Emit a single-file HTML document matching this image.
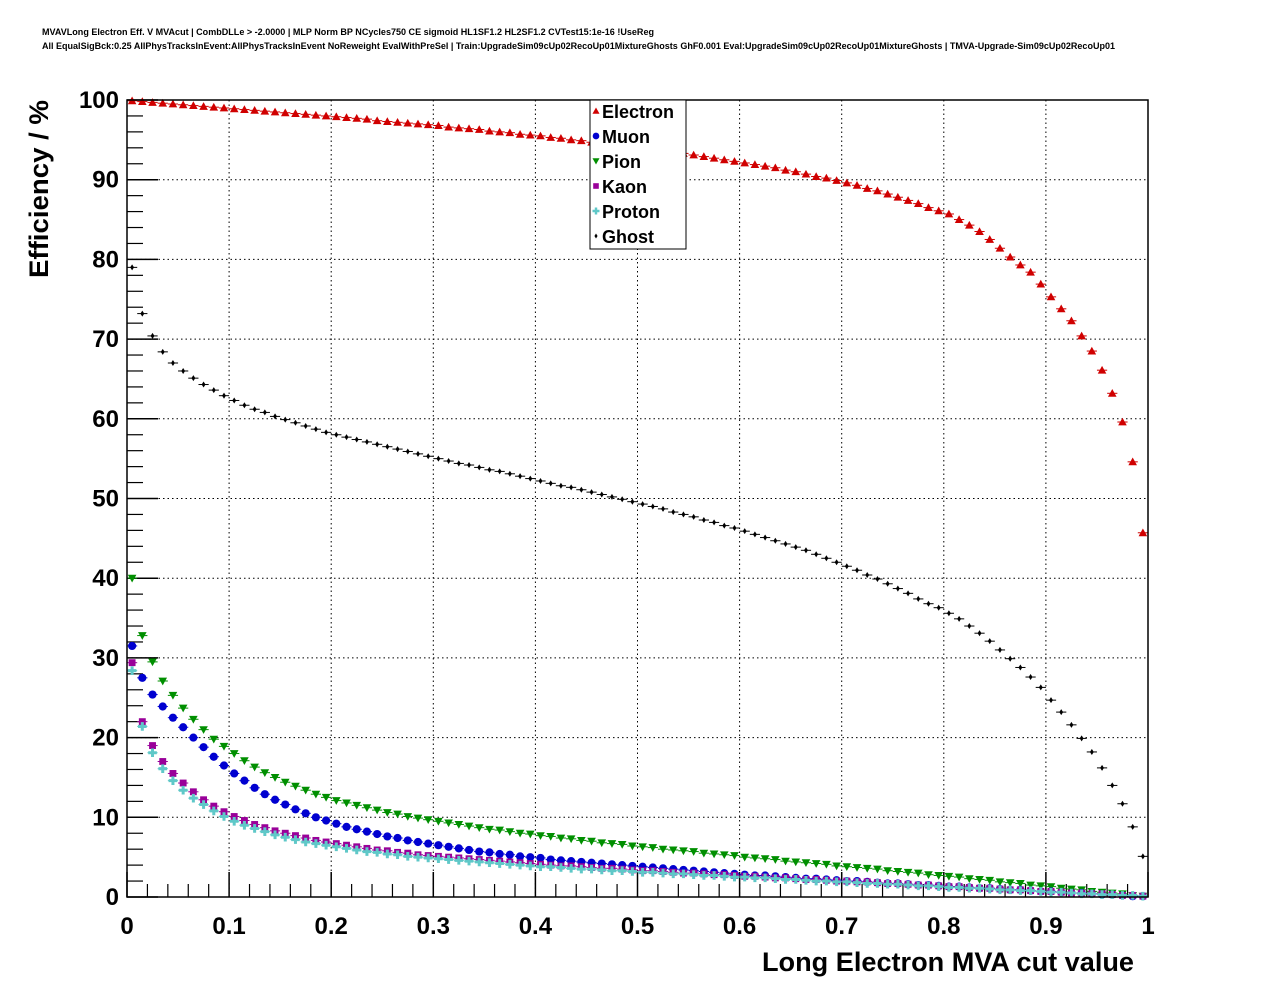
<!DOCTYPE html>
<html><head><meta charset="utf-8"><style>
body{margin:0;background:#fff;}
svg{display:block;font-family:"Liberation Sans",sans-serif;}
</style></head><body>
<svg id="c" width="1276" height="996" viewBox="0 0 1276 996">
<text x="42" y="35" font-size="9" font-weight="bold" textLength="612" lengthAdjust="spacingAndGlyphs">MVAVLong Electron Eff. V MVAcut | CombDLLe &gt; -2.0000 | MLP Norm BP NCycles750 CE sigmoid HL1SF1.2 HL2SF1.2 CVTest15:1e-16 !UseReg</text>
<text x="42" y="49" font-size="9" font-weight="bold" textLength="1073" lengthAdjust="spacingAndGlyphs">All EqualSigBck:0.25 AllPhysTracksInEvent:AllPhysTracksInEvent NoReweight EvalWithPreSel | Train:UpgradeSim09cUp02RecoUp01MixtureGhosts GhF0.001 Eval:UpgradeSim09cUp02RecoUp01MixtureGhosts | TMVA-Upgrade-Sim09cUp02RecoUp01</text>
<g id="grid"></g>
<g id="axes"></g>
<g id="marks"></g>
<rect x="127" y="100" width="1021" height="797" fill="none" stroke="#000" stroke-width="1.5"/>
<text x="1134" y="971" font-size="27" font-weight="bold" text-anchor="end" textLength="372" lengthAdjust="spacingAndGlyphs">Long Electron MVA cut value</text>
<text transform="translate(48,100) rotate(-90)" font-size="27" font-weight="bold" text-anchor="end" textLength="178" lengthAdjust="spacingAndGlyphs">Efficiency / %</text>
<g id="legend">
<rect x="590" y="100" width="96" height="149" fill="#fff" stroke="#000" stroke-width="1"/>
</g>
</svg>
<script>
const categories = ["Electron","Muon","Pion","Kaon","Proton","Ghost"];
const xTicks = [0,0.1,0.2,0.3,0.4,0.5,0.6,0.7,0.8,0.9,1];
const xTickLabels = ["0","0.1","0.2","0.3","0.4","0.5","0.6","0.7","0.8","0.9","1"];
const yTicks = [0,10,20,30,40,50,60,70,80,90,100];
const yTickLabels = ["0","10","20","30","40","50","60","70","80","90","100"];
const electron = [99.9,99.8,99.7,99.6,99.5,99.4,99.3,99.2,99.1,99.0,
98.9,98.8,98.7,98.6,98.5,98.4,98.3,98.2,98.1,98.0,
97.9,97.8,97.7,97.6,97.4,97.3,97.2,97.1,97.0,96.9,
96.8,96.6,96.5,96.4,96.3,96.1,96.0,95.9,95.7,95.6,
95.5,95.3,95.2,95.0,94.9,94.7,94.6,94.4,94.2,94.1,
93.9,93.8,93.6,93.4,93.3,93.1,92.9,92.7,92.5,92.3,
92.1,91.9,91.7,91.5,91.2,91.0,90.7,90.4,90.2,89.9,
89.6,89.3,88.9,88.6,88.2,87.8,87.4,87.0,86.5,86.1,
85.7,85.0,84.3,83.5,82.5,81.4,80.3,79.3,78.4,76.9,
75.3,73.8,72.3,70.4,68.5,66.1,63.2,59.6,54.6,45.7];
const muon = [31.5,27.5,25.4,23.9,22.5,21.3,20.0,18.8,17.6,16.5,
15.5,14.6,13.7,12.9,12.2,11.6,11.0,10.5,10.0,9.6,
9.2,8.8,8.5,8.2,7.9,7.6,7.4,7.1,6.9,6.7,
6.5,6.3,6.1,5.9,5.7,5.6,5.4,5.3,5.1,5.0,
4.9,4.7,4.6,4.5,4.4,4.3,4.2,4.1,4.0,3.9,
3.8,3.7,3.6,3.5,3.4,3.3,3.2,3.1,3.0,2.9,
2.8,2.7,2.7,2.6,2.5,2.4,2.3,2.3,2.2,2.1,
2.0,2.0,1.9,1.8,1.7,1.7,1.6,1.5,1.5,1.4,
1.3,1.3,1.2,1.1,1.1,1.0,0.9,0.9,0.8,0.7,
0.7,0.6,0.5,0.5,0.4,0.3,0.3,0.2,0.1,0.1];
const pion = [40.0,32.8,29.5,27.1,25.3,23.7,22.3,21.0,19.8,18.9,
18.0,17.1,16.3,15.6,15.0,14.4,13.9,13.4,12.9,12.5,
12.1,11.8,11.5,11.2,10.9,10.6,10.4,10.1,9.9,9.7,
9.5,9.3,9.1,8.9,8.7,8.5,8.4,8.2,8.0,7.9,
7.7,7.6,7.4,7.3,7.1,7.0,6.8,6.7,6.6,6.4,
6.3,6.2,6.0,5.9,5.8,5.7,5.5,5.4,5.3,5.2,
5.0,4.9,4.8,4.7,4.5,4.4,4.3,4.2,4.1,3.9,
3.8,3.7,3.6,3.5,3.3,3.2,3.1,3.0,2.8,2.7,
2.6,2.5,2.3,2.2,2.1,1.9,1.8,1.7,1.5,1.4,
1.3,1.1,1.0,0.9,0.7,0.6,0.5,0.4,0.2,0.1];
const kaon = [29.4,22.0,19.0,17.0,15.5,14.3,13.2,12.2,11.4,10.7,
10.1,9.6,9.1,8.7,8.3,8.0,7.7,7.4,7.1,6.9,
6.7,6.5,6.3,6.1,5.9,5.8,5.6,5.5,5.3,5.2,
5.1,5.0,4.9,4.8,4.7,4.6,4.5,4.4,4.3,4.2,
4.1,4.0,3.9,3.9,3.8,3.7,3.6,3.6,3.5,3.4,
3.3,3.3,3.2,3.1,3.0,3.0,2.9,2.8,2.8,2.7,
2.6,2.6,2.5,2.4,2.4,2.3,2.2,2.2,2.1,2.0,
2.0,1.9,1.9,1.8,1.7,1.7,1.6,1.5,1.5,1.4,
1.3,1.3,1.2,1.1,1.1,1.0,0.9,0.9,0.8,0.7,
0.7,0.6,0.5,0.5,0.4,0.4,0.3,0.2,0.2,0.1];
const proton = [28.4,21.4,18.1,16.1,14.6,13.4,12.4,11.6,10.8,10.1,
9.5,9.0,8.6,8.2,7.8,7.5,7.2,6.9,6.7,6.5,
6.3,6.1,5.9,5.7,5.6,5.4,5.3,5.1,5.0,4.9,
4.8,4.7,4.6,4.5,4.4,4.3,4.2,4.1,4.0,3.9,
3.8,3.8,3.7,3.6,3.5,3.5,3.4,3.3,3.3,3.2,
3.1,3.1,3.0,2.9,2.9,2.8,2.7,2.7,2.6,2.5,
2.5,2.4,2.4,2.3,2.2,2.2,2.1,2.0,2.0,1.9,
1.9,1.8,1.7,1.7,1.6,1.6,1.5,1.4,1.4,1.3,
1.2,1.2,1.1,1.1,1.0,0.9,0.9,0.8,0.8,0.7,
0.6,0.6,0.5,0.4,0.4,0.3,0.3,0.2,0.2,0.1];
const ghost = [79.0,73.2,70.4,68.4,67.0,66.0,65.1,64.3,63.6,62.9,
62.3,61.7,61.2,60.8,60.3,59.9,59.5,59.1,58.7,58.3,
58.0,57.7,57.4,57.1,56.8,56.5,56.2,55.9,55.6,55.3,
55.0,54.7,54.4,54.2,53.9,53.6,53.4,53.1,52.8,52.5,
52.2,51.9,51.6,51.4,51.1,50.8,50.5,50.2,49.9,49.6,
49.3,49.0,48.7,48.3,48.0,47.7,47.3,47.0,46.6,46.3,
45.9,45.5,45.1,44.7,44.3,43.9,43.5,43.0,42.5,42.0,
41.5,41.0,40.4,39.9,39.3,38.7,38.1,37.4,36.8,36.3,
35.6,34.9,34.0,33.1,32.1,31.0,29.9,28.8,27.6,26.3,
24.7,23.2,21.6,19.9,18.2,16.2,14.0,11.7,8.8,5.1];

const NS="http://www.w3.org/2000/svg";
const X0=127,X1=1148,Y0=897,Y1=100;
const xs=v=>X0+(X1-X0)*v;
const ys=v=>Y0-(Y0-Y1)*v/100;
function mk(tag,attrs,parent){const e=document.createElementNS(NS,tag);for(const k in attrs)e.setAttribute(k,attrs[k]);parent.appendChild(e);return e;}
const grid=document.getElementById('grid'),axes=document.getElementById('axes'),marks=document.getElementById('marks'),legend=document.getElementById('legend');
xTicks.forEach((t,i)=>{
  const x=xs(t);
  if(i>0&&i<xTicks.length-1){const g=mk('line',{x1:x,x2:x,y1:Y1,y2:Y0,stroke:'#000','stroke-width':1,'stroke-dasharray':'1.5,3'},grid);
  
  }
  mk('line',{x1:x,x2:x,y1:Y0,y2:Y0-25,stroke:'#000','stroke-width':1.5},axes);
  const l=mk('text',{x:x,y:934,'font-size':24,'font-weight':'bold','text-anchor':'middle'},axes);
  l.textContent=xTickLabels[i];
  
  
  if(i<xTicks.length-1)for(let m=1;m<5;m++){const xm=xs(t+0.02*m);mk('line',{x1:xm,x2:xm,y1:Y0,y2:Y0-13,stroke:'#000','stroke-width':1.2},axes);}
});
yTicks.forEach((t,i)=>{
  const y=ys(t);
  if(i>0&&i<yTicks.length-1){const g=mk('line',{x1:X0,x2:X1,y1:y,y2:y,stroke:'#000','stroke-width':1,'stroke-dasharray':'1.5,3'},grid);
  
  }
  mk('line',{x1:X0,x2:X0+31,y1:y,y2:y,stroke:'#000','stroke-width':1.5},axes);
  const l=mk('text',{x:119,y:y+8,'font-size':24,'font-weight':'bold','text-anchor':'end'},axes);
  l.textContent=yTickLabels[i];
  
  
  if(i<yTicks.length-1)for(let m=1;m<5;m++){const ym=ys(t+2*m);mk('line',{x1:X0,x2:X0+16,y1:ym,y2:ym,stroke:'#000','stroke-width':1.2},axes);}
});
const colors=['#d00000','#0000d0','#008f00','#990099','#5fc8c8','#000000'];
const shapes=['tri','circ','tridown','sq','cross','diamond'];
function marker(shape,x,y,c,p,s){
  let e;
  if(shape==='tri')e=mk('polygon',{points:`${x},${y-s} ${x-s},${y+s*0.8} ${x+s},${y+s*0.8}`,fill:c},p);
  else if(shape==='tridown')e=mk('polygon',{points:`${x},${y+s} ${x-s},${y-s*0.8} ${x+s},${y-s*0.8}`,fill:c},p);
  else if(shape==='circ')e=mk('circle',{cx:x,cy:y,r:s*0.95,fill:c},p);
  else if(shape==='sq')e=mk('rect',{x:x-s*0.8,y:y-s*0.8,width:s*1.6,height:s*1.6,fill:c},p);
  else if(shape==='cross')e=mk('path',{d:`M${x-s},${y-s*0.35}h${s*0.65}v${-s*0.65}h${s*0.7}v${s*0.65}h${s*0.65}v${s*0.7}h${-s*0.65}v${s*0.65}h${-s*0.7}v${-s*0.65}h${-s*0.65}z`,fill:c},p);
  else e=mk('polygon',{points:`${x},${y-s*0.7} ${x+s*0.45},${y} ${x},${y+s*0.7} ${x-s*0.45},${y}`,fill:c},p);
  return e;
}
const series=[electron,muon,pion,kaon,proton,ghost];
const order=[5,0,2,1,3,4];
order.forEach(si=>{
  const g=mk('g',{},marks);
  
  
  series[si].forEach((v,i)=>{
    const xc=(i+0.5)/series[si].length;
    const x=xs(xc),y=ys(v);
    mk('line',{x1:xs(i/series[si].length),x2:xs((i+1)/series[si].length),y1:y,y2:y,stroke:colors[si],'stroke-width':1},g);
    const m=marker(shapes[si],x,y,colors[si],g,4.3);
    
    
  });
});
categories.forEach((c,i)=>{
  const y=111+25*i;
  const g=mk('g',{},legend);
  
  
  marker(shapes[i],596,y,colors[i],g,3.5);
  const t=mk('text',{x:602,y:y+7,'font-size':18,'font-weight':'bold'},g);
  t.textContent=c;
});
</script>
</body></html>
